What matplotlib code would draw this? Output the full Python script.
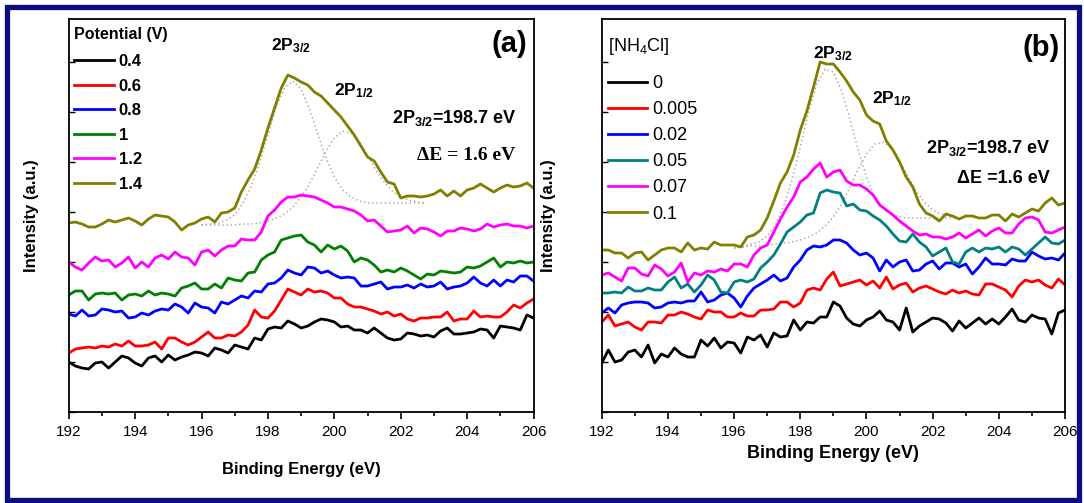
import numpy as np
import matplotlib
matplotlib.use("Agg")
from matplotlib import pyplot as plt
from matplotlib.ticker import MultipleLocator
from matplotlib.patches import Rectangle

plt.rcParams['font.family'] = ['Liberation Sans', 'DejaVu Sans']
plt.rcParams['mathtext.fontset'] = 'custom'
plt.rcParams['mathtext.rm'] = 'Liberation Sans'
plt.rcParams['mathtext.bf'] = 'Liberation Sans:bold'
plt.rcParams['mathtext.it'] = 'Liberation Sans:italic'

# binding energy grid (eV), 0.2 eV steps
energy = np.linspace(192, 206, 71)

# (a) potential series, intensity in a.u. (offset stacked)
potentials = ['0.4', '0.6', '0.8', '1', '1.2', '1.4']
pot_04 = [50,46,44,43,49,50,44,50,56,54,49,46,54,56,50,57,52,55,57,60,59,56,64,62,59,67,65,63,74,72,83,85,84,91,88,84,
          86,90,93,92,90,85,86,82,82,79,84,79,74,72,73,79,78,76,77,75,81,84,78,78,79,80,83,82,74,86,85,84,82,97,94]
pot_06 = [59,63,64,65,64,66,65,68,66,71,66,66,67,70,63,74,74,70,67,70,75,80,74,74,77,76,80,87,102,95,94,101,112,123,120,117,
          123,120,121,119,114,114,108,105,105,103,101,98,100,96,98,93,91,94,94,95,95,100,91,93,93,101,95,96,95,95,100,107,104,109,113]
pot_08 = [98,96,102,96,97,103,102,100,101,94,95,99,97,101,103,102,108,105,99,109,105,104,99,110,108,112,116,114,121,120,128,129,134,142,139,137,
          145,144,139,141,137,134,135,134,126,126,128,130,123,125,125,127,124,128,125,126,130,123,125,126,129,135,129,126,132,126,132,130,136,136,131]
pot_10 = [117,121,121,112,118,119,118,119,112,117,118,116,121,117,119,118,116,124,126,129,123,123,128,124,134,132,131,139,140,152,157,160,172,174,176,177,
          170,167,160,167,163,166,161,150,154,152,147,140,142,140,144,141,137,133,138,137,141,140,139,140,145,144,146,150,154,145,150,149,151,149,150]
pot_12 = [150,145,142,149,155,151,152,145,149,155,144,150,145,154,157,153,160,155,154,147,160,162,156,162,166,166,173,172,172,180,196,202,210,215,215,217,
          216,215,212,209,205,205,203,201,197,191,192,186,180,181,182,186,179,184,183,180,176,181,181,184,183,181,183,188,185,187,188,186,186,184,186]
pot_14 = [189,190,188,185,185,188,192,190,192,194,191,187,193,197,196,195,190,182,187,189,193,195,190,199,200,204,220,232,243,262,284,304,324,337,334,330,
          327,320,316,309,302,295,286,277,266,255,251,240,230,228,214,216,216,215,216,218,222,216,221,216,222,224,228,224,220,224,227,225,226,229,224]

# (b) NH4Cl concentration series
conc = ['0', '0.005', '0.02', '0.05', '0.07', '0.1']
nh_0 = [49,62,50,52,60,62,55,67,49,58,55,64,58,55,55,72,66,74,64,70,69,59,75,72,77,65,79,75,76,92,82,90,89,95,95,110,
        106,94,88,86,92,95,101,92,90,82,104,80,86,90,94,93,89,81,91,84,89,94,88,93,88,95,103,92,90,97,94,93,78,99,102]
nh_005 = [90,97,86,88,90,85,82,90,90,89,97,97,100,98,95,93,102,100,100,95,95,99,96,96,102,102,103,110,110,105,109,122,124,122,133,140,
          126,128,130,132,127,131,124,135,123,127,129,120,124,126,123,120,118,122,119,121,118,117,128,128,125,122,115,126,132,130,132,127,124,133,127]
nh_02 = [99,104,99,107,109,110,110,109,104,105,109,110,109,111,111,120,110,112,117,119,114,105,116,124,128,132,137,131,134,145,152,162,166,165,167,172,
         172,169,162,157,159,154,141,152,145,150,152,141,142,148,151,143,149,149,145,148,138,145,154,148,148,147,153,151,151,160,156,153,154,152,159]
nh_05 = [119,119,120,119,125,121,121,124,122,122,130,135,124,128,120,127,137,132,120,119,130,132,130,133,144,150,157,168,180,185,190,197,199,219,222,220,
         219,206,208,202,201,196,192,186,178,171,170,178,170,165,156,160,164,150,148,160,164,160,164,163,165,160,165,163,157,163,169,175,169,168,172]
nh_07 = [137,139,135,131,144,144,138,136,147,143,136,140,149,130,139,137,141,140,143,141,148,148,145,157,164,167,180,193,205,215,230,235,243,249,235,240,
         242,231,227,227,223,217,207,202,197,191,186,181,177,178,175,175,173,175,179,174,178,182,176,181,184,179,179,188,194,195,192,180,179,182,185]
nh_1 = [162,162,159,159,154,159,160,152,157,162,164,164,160,169,162,164,163,170,167,167,167,165,175,177,182,194,211,229,240,257,282,301,325,350,348,348,
        340,331,320,312,297,291,288,271,262,250,235,225,208,199,196,191,198,196,193,196,196,194,194,197,197,191,198,195,199,203,201,209,214,207,209]

# fitted 2p components under the top curve
fit_energy = np.linspace(196.0, 202.75, 28)
fit_a_32 = [187,188,189,192,197,209,226,250,277,305,324,331,323,303,278,254,235,222,215,211,209,209,209,209,209,209,209,209]
fit_a_12 = [187,187,187,187,187,188,188,189,191,194,198,205,215,228,244,261,274,281,279,270,257,242,230,221,215,212,210,209]
fit_b_32 = [164,165,168,170,176,187,206,232,265,300,328,343,340,321,293,262,235,215,204,198,195,194,194,194,194,194,194,194]
fit_b_12 = [164,165,166,166,167,168,169,170,172,175,179,186,195,208,225,243,258,268,270,264,251,236,221,210,202,198,196,194]

cols_a = ['black', 'red', 'blue', 'green', 'magenta', '#808000']
cols_b = ['black', 'red', 'blue', '#008080', 'magenta', '#808000']

fig = plt.figure(figsize=(10.84, 5.03), dpi=100)
ax1 = fig.add_axes([0.0634, 0.1809, 0.4288, 0.7813])
ax2 = fig.add_axes([0.5551, 0.1809, 0.4274, 0.7813])

series_a = [pot_04, pot_06, pot_08, pot_10, pot_12, pot_14]
series_b = [nh_0, nh_005, nh_02, nh_05, nh_07, nh_1]

for ax, fa, fb in [(ax1, fit_a_32, fit_a_12), (ax2, fit_b_32, fit_b_12)]:
    ax.plot(fit_energy, fa, color='#a0a0a0', lw=1, ls=(0, (1, 2)))
    ax.plot(fit_energy, fb, color='#a0a0a0', lw=1, ls=(0, (1, 2)))

for y, c, lab in zip(series_a, cols_a, potentials):
    ax1.plot(energy, y, color=c, lw=2, label=lab)
for y, c, lab in zip(series_b, cols_b, conc):
    ax2.plot(energy, y, color=c, lw=2, label=lab)

for ax in (ax1, ax2):
    ax.set_xlim(192, 206)
    ax.set_ylim(0, 393)
    ax.xaxis.set_major_locator(MultipleLocator(2))
    ax.xaxis.set_minor_locator(MultipleLocator(1))
    ax.yaxis.set_major_locator(MultipleLocator(50))
    ax.set_yticklabels([])
    ax.tick_params(axis='x', which='major', direction='out', length=5, width=1.2, labelsize=11, pad=4.5)
    ax.tick_params(axis='x', which='minor', direction='out', length=3, width=1.2)
    ax.tick_params(axis='y', which='major', direction='in', length=4, width=1)
    for s in ax.spines.values():
        s.set_linewidth(1.3)

ax1.set_xlabel('Binding Energy (eV)', fontsize=12, fontweight='bold')
ax1.xaxis.set_label_coords(0.5, -0.128)
ax2.set_xlabel('Binding Energy (eV)', fontsize=13, fontweight='bold')
ax2.xaxis.set_label_coords(0.5, -0.085)
ax1.set_ylabel('Intensity (a.u.)', fontsize=12, fontweight='bold')
ax1.yaxis.set_label_coords(-0.064, 0.5)
ax2.set_ylabel('Intensity (a.u.)', fontsize=12, fontweight='bold')
ax2.yaxis.set_label_coords(-0.099, 0.5)

leg1 = ax1.legend(loc='upper left', bbox_to_anchor=(0.011, 0.980), frameon=False,
                  title='Potential (V)', alignment='left',
                  prop={'size': 12, 'weight': 'bold'},
                  title_fontproperties={'size': 11.5, 'weight': 'bold'},
                  handlelength=2.4, handletextpad=0.3, labelspacing=0.57,
                  borderpad=0, borderaxespad=0)
leg1._legend_box.sep = 8.9
leg2 = ax2.legend(loc='upper left', bbox_to_anchor=(0.013, 0.957), frameon=False,
                  title='[NH$_4$Cl]', alignment='left',
                  prop={'size': 13},
                  title_fontproperties={'size': 13},
                  handlelength=2.2, handletextpad=0.25, labelspacing=0.5,
                  borderpad=0, borderaxespad=0)
leg2._legend_box.sep = 13.3

# peak annotations
ax1.text(0.435, 0.921, r'2P$_{\mathbf{3/2}}$', transform=ax1.transAxes, fontsize=12.5, fontweight='bold', va='baseline')
ax1.text(0.571, 0.807, r'2P$_{\mathbf{1/2}}$', transform=ax1.transAxes, fontsize=12.5, fontweight='bold', va='baseline')
ax1.text(0.963, 0.735, r'2P$_{\mathbf{3/2}}$=198.7 eV', transform=ax1.transAxes, fontsize=13, fontweight='bold',
         ha='right', va='baseline')
ax1.text(0.960, 0.641, u'\u0394E = 1.6 eV', transform=ax1.transAxes, fontsize=14, fontweight='bold',
         ha='right', va='baseline', family='Liberation Serif')
ax1.text(0.986, 0.917, '(a)', transform=ax1.transAxes, fontsize=21, fontweight='bold', ha='right', va='baseline')

ax2.text(0.456, 0.901, r'2P$_{\mathbf{3/2}}$', transform=ax2.transAxes, fontsize=12.5, fontweight='bold', va='baseline')
ax2.text(0.583, 0.786, r'2P$_{\mathbf{1/2}}$', transform=ax2.transAxes, fontsize=12.5, fontweight='bold', va='baseline')
ax2.text(0.968, 0.659, r'2P$_{\mathbf{3/2}}$=198.7 eV', transform=ax2.transAxes, fontsize=13, fontweight='bold',
         ha='right', va='baseline')
ax2.text(0.968, 0.583, u'\u0394E =1.6 eV', transform=ax2.transAxes, fontsize=13, fontweight='bold',
         ha='right', va='baseline')
ax2.text(0.988, 0.906, '(b)', transform=ax2.transAxes, fontsize=21, fontweight='bold', ha='right', va='baseline')

# navy frame round the whole figure
fig.patches.append(Rectangle((0.0069, 0.006), 0.9885, 0.980, transform=fig.transFigure,
                             fill=False, edgecolor='#0b0b82', linewidth=3.8))

fig.savefig('out.png', dpi=100)
